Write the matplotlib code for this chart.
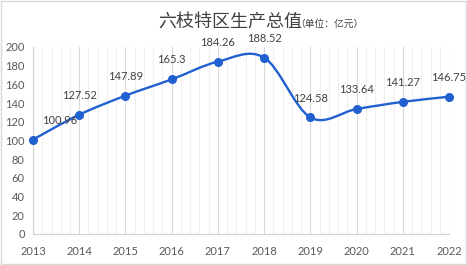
import matplotlib.pyplot as plt
import numpy as np
from matplotlib.path import Path
from matplotlib.patches import PathPatch, Rectangle
from matplotlib.ticker import MultipleLocator

years = [2013, 2014, 2015, 2016, 2017, 2018, 2019, 2020, 2021, 2022]
gdp = [100.96, 127.52, 147.89, 165.3, 184.26, 188.52, 124.58, 133.64, 141.27, 146.75]
labels = ['100.96', '127.52', '147.89', '165.3', '184.26', '188.52',
          '124.58', '133.64', '141.27', '146.75']

blue = '#2160D0'
plt.rcParams['font.family'] = ['Lato', 'Noto Sans CJK SC', 'DejaVu Sans']

fig = plt.figure(figsize=(4.67, 2.65), dpi=100)
fig.patches.append(Rectangle((0.002, 0.004), 0.996, 0.992, transform=fig.transFigure,
                             fill=False, edgecolor='#D9D9D9', linewidth=1))
ax = fig.add_axes([0.0707, 0.117, 0.891, 0.706])

# smoothed line like Excel (Catmull-Rom as cubic Bezier)
x = np.array(years, dtype=float)
y = np.array(gdp, dtype=float)
verts = [(x[0], y[0])]
codes = [Path.MOVETO]
for i in range(len(x) - 1):
    p0 = np.array([x[max(i - 1, 0)], y[max(i - 1, 0)]])
    p1 = np.array([x[i], y[i]])
    p2 = np.array([x[i + 1], y[i + 1]])
    p3 = np.array([x[min(i + 2, len(x) - 1)], y[min(i + 2, len(x) - 1)]])
    c1 = p1 + (p2 - p0) / 6
    c2 = p2 - (p3 - p1) / 6
    verts += [tuple(c1), tuple(c2), tuple(p2)]
    codes += [Path.CURVE4] * 3
ax.add_patch(PathPatch(Path(verts, codes), fill=False, edgecolor=blue, linewidth=1.7,
                       zorder=3, clip_on=False))
ax.plot(years, gdp, linestyle='none', marker='o', markersize=5.5, color=blue, zorder=4,
        clip_on=False)

for i, (xx, yy, t) in enumerate(zip(years, gdp, labels)):
    dx = 19 if i == 0 else 0
    ax.annotate(t, (xx, yy), xytext=(dx, 10), textcoords='offset points', ha='center',
                va='bottom', fontsize=8, color='#404040')

ax.set_xlim(2013, 2022)
ax.set_ylim(0, 200)
ax.xaxis.set_major_locator(MultipleLocator(1))
ax.xaxis.set_minor_locator(MultipleLocator(0.2))
ax.yaxis.set_major_locator(MultipleLocator(20))
ax.grid(axis='x', which='major', color='#D9D9D9', linewidth=0.8)
ax.grid(axis='x', which='minor', color='#EFEFEF', linewidth=0.8)
ax.set_axisbelow(True)
for s in ['top', 'right']:
    ax.spines[s].set_visible(False)
for s in ['left', 'bottom']:
    ax.spines[s].set_color('#D0D0D0')
ax.tick_params(which='both', length=0, labelsize=8, labelcolor='#595959')
ax.tick_params(axis='x', pad=9)
ax.tick_params(axis='y', pad=6)

fig.text(0.338, 0.915, '六枝特区生产总值', fontsize=13, color='#404040',
         family=['Noto Sans CJK SC'], va='center', ha='left')
fig.text(0.633, 0.91, '（单位：亿元）', fontsize=7, color='#404040',
         family=['Noto Sans CJK SC'], va='center', ha='left')

fig.savefig('out.png', dpi=100)
